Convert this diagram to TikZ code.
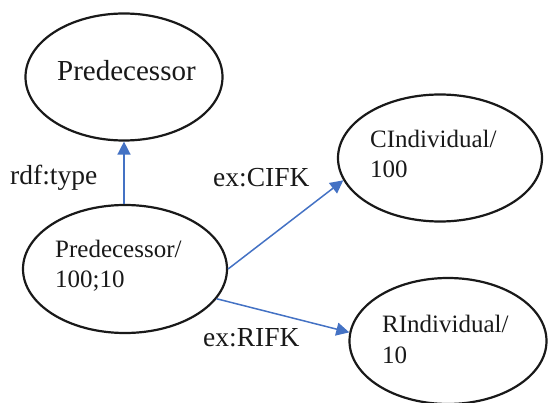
\documentclass[tikz,border=0pt]{standalone}
\usepackage{fontspec}
\setmainfont{Liberation Serif}
\usetikzlibrary{shapes.geometric,arrows.meta}
\definecolor{linkblue}{RGB}{68,114,196}
\definecolor{ink}{RGB}{25,25,25}
\begin{document}
\begin{tikzpicture}[x=1pt,y=-1pt,
  blob/.style={ellipse,draw=ink,line width=2.2pt,inner sep=0pt},
  nodetxt/.style={anchor=base west,inner sep=0pt,text=ink,align=left,
    font=\fontsize{25}{30.5}\selectfont},
  edgetxt/.style={anchor=base west,inner sep=0pt,text=ink,
    font=\fontsize{27.5}{32}\selectfont},
  link/.style={draw=linkblue,line width=1.5pt,
    -{Triangle[length=13pt,width=13pt]}}]
  \useasboundingbox (0,0) rectangle (549,403);

  % class and resource ellipses
  \node[blob,minimum width=197pt,minimum height=127pt] (cls) at (124,77) {};
  \node[blob,minimum width=204pt,minimum height=128pt] (pred) at (125,269) {};
  \node[blob,minimum width=204pt,minimum height=127pt] (cind) at (440,158) {};
  \node[blob,minimum width=197pt,minimum height=126pt] (rind) at (448,341) {};

  % ellipse texts (a two-line node sits on the baseline of its last line)
  \node[nodetxt,font=\fontsize{29}{34}\selectfont] (clsT) at (57,81) {Predecessor};
  \node[nodetxt] (predT) at (55,288) {Predecessor/\\100;10};
  \node[nodetxt] (cindT) at (370,178) {CIndividual/\\100};
  \node[nodetxt] (rindT) at (382,363) {RIndividual/\\10};

  % properties
  \draw[link] (pred.north -| cls.south) -- (cls.south);
  \draw[link] (pred.east) -- (cind.193);
  \draw[link] (pred.-18) -- (rind.175);

  % property labels
  \node[edgetxt] (typeL) at (10,185) {rdf:type};
  \node[edgetxt] (cifkL) at (213,187) {ex:CIFK};
  \node[edgetxt] (rifkL) at (203,347) {ex:RIFK};
\end{tikzpicture}
\end{document}
